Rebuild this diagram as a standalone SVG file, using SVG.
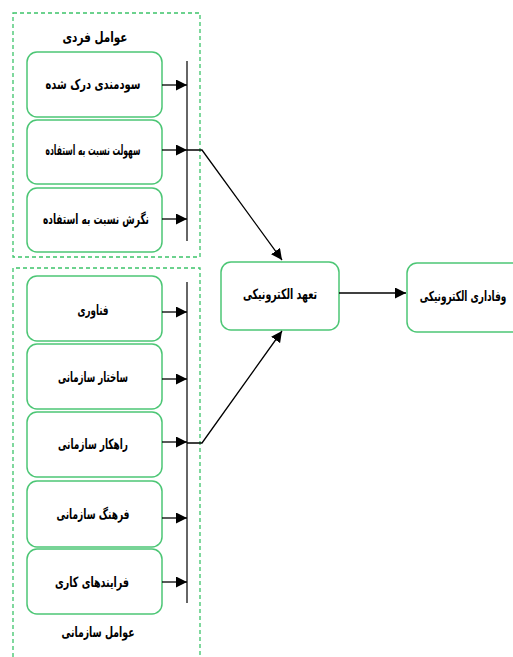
<svg xmlns="http://www.w3.org/2000/svg" width="513" height="657" viewBox="0 0 513 657">
<style>
.grp{fill:none;stroke:#3cc46a;stroke-width:1.3;stroke-dasharray:4 3}
.node{fill:#fff;stroke:#4cc675;stroke-width:1.5}
.t{font-family:"DejaVu Sans",sans-serif;font-weight:bold;font-size:14px;fill:#000;text-anchor:middle;dominant-baseline:central}
.c{fill:none;stroke:#000;stroke-width:1.3}
.bar{fill:none;stroke:#333;stroke-width:1.5}
</style>
<defs>
<marker id="ah" markerUnits="userSpaceOnUse" markerWidth="11" markerHeight="11" refX="11" refY="5.5" orient="auto"><path d="M0,0 L11,5.5 L0,11 z" fill="#000"/></marker>
</defs>
<rect width="513" height="657" fill="#fff"/>
<g id="group-individual">
<rect class="grp" x="13" y="13" width="187" height="244"/>
<text class="t" x="95" y="37" textLength="65" lengthAdjust="spacingAndGlyphs">عوامل فردی</text>
</g>
<g id="group-organizational">
<path class="grp" d="M13,657 V268 H200 V657"/>
<text class="t" x="98" y="632" textLength="73" lengthAdjust="spacingAndGlyphs">عوامل سازمانی</text>
</g>
<g id="n1"><rect class="node" x="27" y="52" width="135" height="65" rx="10"/><text class="t" x="93" y="84" textLength="95" lengthAdjust="spacingAndGlyphs">سودمندی درک شده</text></g>
<g id="n2"><rect class="node" x="27" y="120" width="135" height="64" rx="10"/><text class="t" x="93" y="150" textLength="95" lengthAdjust="spacingAndGlyphs">سهولت نسبت به استفاده</text></g>
<g id="n3"><rect class="node" x="27" y="188" width="135" height="64" rx="10"/><text class="t" x="96" y="219" textLength="106" lengthAdjust="spacingAndGlyphs">نگرش نسبت به استفاده</text></g>
<g id="n4"><rect class="node" x="27" y="276" width="135" height="65" rx="10"/><text class="t" x="93" y="310" textLength="31" lengthAdjust="spacingAndGlyphs">فناوری</text></g>
<g id="n5"><rect class="node" x="27" y="344" width="135" height="65" rx="10"/><text class="t" x="93" y="377" textLength="70" lengthAdjust="spacingAndGlyphs">ساختار سازمانی</text></g>
<g id="n6"><rect class="node" x="27" y="412" width="135" height="65" rx="10"/><text class="t" x="93" y="444" textLength="70" lengthAdjust="spacingAndGlyphs">راهکار سازمانی</text></g>
<g id="n7"><rect class="node" x="27" y="481" width="135" height="66" rx="10"/><text class="t" x="93" y="514" textLength="73" lengthAdjust="spacingAndGlyphs">فرهنگ سازمانی</text></g>
<g id="n8"><rect class="node" x="27" y="549" width="135" height="65" rx="10"/><text class="t" x="92" y="582" textLength="74" lengthAdjust="spacingAndGlyphs">فرایندهای کاری</text></g>
<g id="commit"><rect class="node" x="221" y="262" width="118" height="68" rx="10"/><text class="t" x="280" y="294" textLength="74" lengthAdjust="spacingAndGlyphs">تعهد الکترونیکی</text></g>
<g id="loyalty"><path class="node" d="M513,263 H417 A10,10 0 0 0 407,273 V322 A10,10 0 0 0 417,332 H513"/><text class="t" transform="translate(463,296) scale(0.64,1)" x="0" y="0">وفاداری الکترونیکی</text></g>
<g id="connectors">
<line class="bar" x1="187" y1="61" x2="187" y2="241"/>
<line class="bar" x1="187" y1="282" x2="187" y2="603"/>
<line class="c" x1="162" y1="85" x2="187" y2="85" marker-end="url(#ah)"/>
<line class="c" x1="162" y1="150" x2="187" y2="150" marker-end="url(#ah)"/>
<line class="c" x1="162" y1="219" x2="187" y2="219" marker-end="url(#ah)"/>
<line class="c" x1="162" y1="312" x2="187" y2="312" marker-end="url(#ah)"/>
<line class="c" x1="162" y1="379" x2="187" y2="379" marker-end="url(#ah)"/>
<line class="c" x1="162" y1="442" x2="187" y2="442" marker-end="url(#ah)"/>
<line class="c" x1="162" y1="518" x2="187" y2="518" marker-end="url(#ah)"/>
<line class="c" x1="162" y1="582" x2="187" y2="582" marker-end="url(#ah)"/>
<polyline class="c" points="187,150 202,150 282,260" marker-end="url(#ah)"/>
<polyline class="c" points="187,443 202,443 282,331" marker-end="url(#ah)"/>
<line class="c" x1="339" y1="293" x2="406" y2="293" marker-end="url(#ah)"/>
</g>
</svg>
